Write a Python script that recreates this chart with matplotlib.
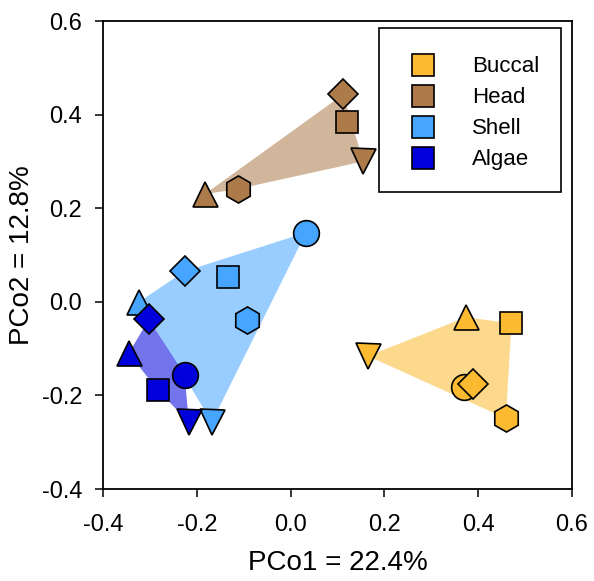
import matplotlib
matplotlib.use('Agg')
import matplotlib.pyplot as plt
import numpy as np
from matplotlib.lines import Line2D
from matplotlib.patches import Rectangle

plt.rcParams['font.family'] = ['Liberation Sans', 'DejaVu Sans']

groups = ['Buccal', 'Head', 'Shell', 'Algae']
colors = ['#FBBA30', '#AD7A4A', '#46A5FF', '#0000DD']

# marker per sample, x, y
buccal_m = ['o', 's', '^', 'v', 'D', 'h']
buccal_x = [0.369, 0.471, 0.374, 0.165, 0.389, 0.459]
buccal_y = [-0.181, -0.046, -0.033, -0.116, -0.176, -0.249]

head_m = ['s', '^', 'v', 'D', 'h']
head_x = [0.120, -0.183, 0.155, 0.112, -0.113]
head_y = [0.385, 0.230, 0.300, 0.443, 0.241]

shell_m = ['o', 's', '^', 'v', 'D', 'h']
shell_x = [0.033, -0.134, -0.323, -0.168, -0.226, -0.093]
shell_y = [0.148, 0.054, 0.000, -0.257, 0.065, -0.039]

algae_m = ['o', 's', '^', 'v', 'D']
algae_x = [-0.226, -0.283, -0.345, -0.217, -0.302]
algae_y = [-0.157, -0.189, -0.110, -0.257, -0.037]

data = [(buccal_m, buccal_x, buccal_y), (head_m, head_x, head_y),
        (shell_m, shell_x, shell_y), (algae_m, algae_x, algae_y)]

msize = {'o': 18.5, 's': 16.5, '^': 18, 'v': 18, 'D': 15.5, 'h': 19.5}


def hull(pts):
    # monotone chain convex hull
    pts = sorted(map(tuple, pts))
    def cross(o, a, b):
        return (a[0]-o[0])*(b[1]-o[1]) - (a[1]-o[1])*(b[0]-o[0])
    lower, upper = [], []
    for p in pts:
        while len(lower) >= 2 and cross(lower[-2], lower[-1], p) <= 0:
            lower.pop()
        lower.append(p)
    for p in reversed(pts):
        while len(upper) >= 2 and cross(upper[-2], upper[-1], p) <= 0:
            upper.pop()
        upper.append(p)
    return np.array(lower[:-1] + upper[:-1])


fig = plt.figure(figsize=(5.94, 5.81), dpi=100)
ax = fig.add_axes([103/594, 1-489/581, 469/594, 468/581])

for i, (m, x, y) in enumerate(data):
    h = hull(np.column_stack([x, y]))
    ax.fill(h[:, 0], h[:, 1], color=colors[i], alpha=0.55, lw=0, zorder=1 + i*0.1)

for i, (m, x, y) in enumerate(data):
    for mk, xx, yy in zip(m, x, y):
        ax.plot(xx, yy, marker=mk, ms=msize[mk], color=colors[i],
                mec='black', mew=1.2, ls='none', zorder=3 + i*0.1)

ax.set_xlim(-0.4, 0.6)
ax.set_ylim(-0.4, 0.6)
ax.set_xticks(np.arange(-0.4, 0.61, 0.2))
ax.set_yticks(np.arange(-0.4, 0.61, 0.2))
ax.xaxis.set_major_formatter(matplotlib.ticker.FormatStrFormatter('%.1f'))
ax.yaxis.set_major_formatter(matplotlib.ticker.FormatStrFormatter('%.1f'))
ax.tick_params(direction='out', length=6, width=1.1, labelsize=17)
ax.tick_params(axis='x', pad=12)
ax.tick_params(axis='y', pad=9)
for s in ax.spines.values():
    s.set_linewidth(1.3)
ax.set_xlabel('PCo1 = 22.4%', fontsize=20, labelpad=10)
ax.set_ylabel('PCo2 = 12.8%', fontsize=20, labelpad=5)

handles = [Line2D([], [], marker='s', ls='none', ms=16.5, color=c, mec='black', mew=1.2)
           for c in colors]
leg = ax.legend(handles, groups, loc='upper right', bbox_to_anchor=(0.977, 0.972),
                fontsize=16, frameon=False,
                borderpad=1.0, handlelength=2.0, handletextpad=1.2, labelspacing=0.45,
                borderaxespad=0)
leg.set_zorder(10)
# legend box
ax.add_patch(Rectangle((0.588, 0.635), 0.389, 0.350, transform=ax.transAxes,
                       fc='white', ec='black', lw=1.2, zorder=9))

fig.savefig('out.png', dpi=100)
